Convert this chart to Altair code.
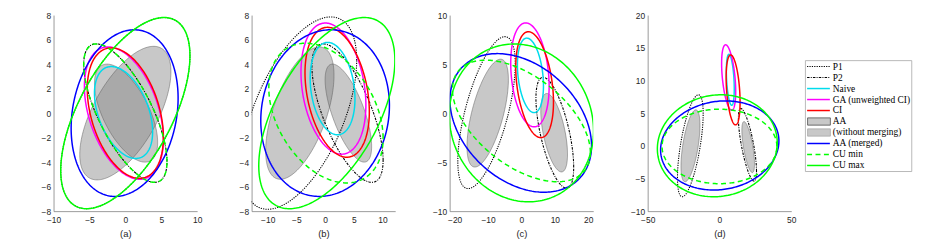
import numpy as np
import pandas as pd
import altair as alt

# ---------------- data ----------------
SERIES = ["P1", "P2", "Naive", "GA (unweighted CI)", "CI", "AA",
          "(without merging)", "AA (merged)", "CU min", "CU max"]
PANEL_TITLES = ["(a)", "(b)", "(c)", "(d)"]

# ellipse centre (cx, cy), half extents (sx, sy) and correlation (rho), per series
A_CX = [0.0, 0.0, -0.25, -0.2, 0.0, 0.0, 0.1, -0.1, 0.0, 0.0]
A_CY = [0.0, 0.0, 0.05, 0.0, 0.0, 0.0, 0.0, 0.0, 0.0, 0.0]
A_SX = [9.0, 5.8, 4.05, 5.5, 5.3, 6.35, 4.4, 7.45, 5.8, 9.0]
A_SY = [7.8, 5.65, 3.75, 5.4, 5.32, 5.45, 4.0, 6.8, 5.65, 7.8]
A_RHO = [0.60, -0.70, -0.42, -0.40, -0.37, 0.62, -0.60, 0.18, -0.70, 0.60]

B_CX = [-4.5, 3.9, 1.3, 1.45, 2.1, -4.4, 4.05, 0.0, 0.15, 0.3]
B_CY = [0.0, 0.0, 2.0, 2.0, 1.7, 0.0, 0.0, 0.0, 0.0, 0.0]
B_SX = [10.0, 6.2, 3.9, 5.65, 5.6, 5.95, 4.05, 11.2, 9.95, 11.85]
B_SY = [7.85, 5.65, 3.77, 5.35, 5.3, 5.4, 4.0, 6.8, 5.7, 7.8]
B_RHO = [0.55, -0.68, -0.22, -0.25, -0.30, 0.57, -0.68, 0.09, -0.36, 0.55]

C_CX = [-10.45, 10.0, 2.7, 2.55, 3.95, -10.1, 9.8, -0.2, 0.0, 0.0]
C_CY = [0.05, -2.0, 3.85, 3.9, 2.9, 0.0, -2.0, -1.0, -0.8, -1.0]
C_SX = [8.6, 5.65, 3.9, 5.75, 5.65, 6.2, 4.0, 21.2, 20.65, 21.6]
C_SY = [7.75, 5.65, 3.8, 5.3, 5.4, 5.5, 4.0, 7.07, 6.2, 8.05]
C_RHO = [0.64, -0.62, -0.28, -0.22, -0.33, 0.62, -0.55, -0.33, -0.52, -0.10]

D_CX = [-20.3, 19.5, 7.55, 6.4, 9.5, -20.2, 20.0, 0.2, 0.0, -1.5]
D_CY = [0.0, 0.15, 10.1, 10.45, 8.55, 0.0, -0.2, 0.05, -0.1, 0.0]
D_SX = [8.95, 6.3, 2.75, 4.9, 4.85, 6.6, 4.4, 41.2, 40.0, 41.75]
D_SY = [7.8, 5.55, 3.9, 5.0, 5.35, 5.5, 3.9, 6.82, 5.7, 7.8]
D_RHO = [0.63, -0.73, -0.35, -0.43, -0.35, 0.57, -0.66, 0.10, 0.0, 0.06]

X_DOMAINS = [[-10, 10], [-12.8, 12.2], [-21.5, 21.5], [-50, 50]]
Y_DOMAINS = [[-8, 8], [-8, 8], [-10, 10], [-10, 20]]
X_TICKS = [[-10, -5, 0, 5, 10], [-10, -5, 0, 5, 10], [-20, -10, 0, 10, 20], [-50, 0, 50]]
Y_TICKS = [[-8, -6, -4, -2, 0, 2, 4, 6, 8], [-8, -6, -4, -2, 0, 2, 4, 6, 8],
           [-10, -5, 0, 5, 10], [-10, -5, 0, 5, 10, 15, 20]]

PANELS = [
    dict(cx=A_CX, cy=A_CY, sx=A_SX, sy=A_SY, rho=A_RHO),
    dict(cx=B_CX, cy=B_CY, sx=B_SX, sy=B_SY, rho=B_RHO),
    dict(cx=C_CX, cy=C_CY, sx=C_SX, sy=C_SY, rho=C_RHO),
    dict(cx=D_CX, cy=D_CY, sx=D_SX, sy=D_SY, rho=D_RHO),
]

# ---------------- styles ----------------
GREEN = "#00ff00"
STYLE = {
    "P1": dict(color="#000000", width=1.1, dash=[1.2, 1.2]),
    "P2": dict(color="#000000", width=1.1, dash=[2.5, 1.2, 1, 1.2]),
    "Naive": dict(color="#00dcec", width=1.5),
    "GA (unweighted CI)": dict(color="#ff00ff", width=1.5),
    "CI": dict(color="#ff0000", width=1.5),
    "AA (merged)": dict(color="#0000ff", width=1.5),
    "CU min": dict(color=GREEN, width=1.5, dash=[5, 3.5]),
    "CU max": dict(color=GREEN, width=1.5),
}
FILLED = ["AA", "(without merging)"]
LINE_ORDER = ["P1", "P2", "Naive", "GA (unweighted CI)", "CI", "AA (merged)", "CU min", "CU max"]
GRAY_FILL = "#808080"
GRAY_OPACITY = 0.43
FONT = "Liberation Sans"
TXT = "#262626"
AXIS_COL = "#808080"
W, H = 145, 198

T = np.linspace(0, 2 * np.pi, 241)
TH = np.linspace(0, np.pi, 121)


def outline(cx, cy, sx, sy, r):
    s = np.sqrt(1 - r * r)
    return pd.DataFrame({"k": np.arange(len(T)),
                         "x": cx + sx * np.cos(T),
                         "y": cy + sy * (r * np.cos(T) + s * np.sin(T))})


def band(cx, cy, sx, sy, r):
    s = np.sqrt(1 - r * r)
    c, sn = np.cos(TH), np.sin(TH)
    return pd.DataFrame({"x": cx + sx * c,
                         "y": cy + sy * (r * c + s * sn),
                         "y2": cy + sy * (r * c - s * sn)})


def panel_layers(i):
    p = PANELS[i]
    xs = alt.Scale(domain=X_DOMAINS[i], nice=False, zero=False)
    ys = alt.Scale(domain=Y_DOMAINS[i], nice=False, zero=False)
    xaxis = alt.Axis(values=X_TICKS[i], title=PANEL_TITLES[i], grid=False, ticks=False,
                     labelFlush=False, labelFont=FONT, labelFontSize=8.5, labelColor=TXT,
                     labelPadding=4.5, domainColor=AXIS_COL, domainWidth=0.8,
                     titleFont=FONT, titleFontSize=9.5, titleFontWeight="normal",
                     titleColor=TXT, titlePadding=5)
    yaxis = alt.Axis(values=Y_TICKS[i], title=None, grid=False, ticks=False,
                     labelFlush=False, labelFont=FONT, labelFontSize=8.5, labelColor=TXT,
                     labelPadding=3, domainColor=AXIS_COL, domainWidth=0.8)
    layers = []
    for name in FILLED:
        j = SERIES.index(name)
        d = band(p["cx"][j], p["cy"][j], p["sx"][j], p["sy"][j], p["rho"][j])
        layers.append(alt.Chart(d).mark_area(color=GRAY_FILL, fillOpacity=GRAY_OPACITY, clip=True).encode(
            x=alt.X("x:Q", scale=xs, axis=xaxis),
            y=alt.Y("y:Q", scale=ys, axis=yaxis, stack=False),
            y2="y2:Q"))
    for name in FILLED:
        j = SERIES.index(name)
        d = outline(p["cx"][j], p["cy"][j], p["sx"][j], p["sy"][j], p["rho"][j])
        layers.append(alt.Chart(d).mark_line(color="#5a5a5a", strokeWidth=0.5, clip=True).encode(
            x=alt.X("x:Q", scale=xs, axis=xaxis),
            y=alt.Y("y:Q", scale=ys, axis=yaxis),
            order="k:Q"))
    for name in LINE_ORDER:
        j = SERIES.index(name)
        st = STYLE[name]
        kw = dict(color=st["color"], strokeWidth=st["width"], clip=True)
        if "dash" in st:
            kw["strokeDash"] = st["dash"]
        d = outline(p["cx"][j], p["cy"][j], p["sx"][j], p["sy"][j], p["rho"][j])
        layers.append(alt.Chart(d).mark_line(**kw).encode(
            x=alt.X("x:Q", scale=xs, axis=xaxis),
            y=alt.Y("y:Q", scale=ys, axis=yaxis),
            order="k:Q"))
    return layers


# ---------------- legend (drawn beside panel d) ----------------
leg = pd.DataFrame({"label": SERIES, "row": np.arange(len(SERIES))})
LX = alt.Scale(domain=[-159, -14], nice=False, zero=False)   # 1 unit = 1 px, starts right of panel d
LY = alt.Scale(domain=[-4.685, 13.155], nice=False, zero=False, reverse=True)


def legend_layers():
    out = []
    box = pd.DataFrame({"u": [0.3], "u2": [107.7], "r": [-0.54], "r2": [9.55]})
    out.append(alt.Chart(box).mark_rect(fill="white", stroke="#a6a6a6", strokeWidth=0.8).encode(
        x=alt.X("u:Q", scale=LX, axis=None), x2="u2:Q",
        y=alt.Y("r:Q", scale=LY, axis=None), y2="r2:Q"))
    for name in SERIES:
        row = leg[leg["label"] == name]
        if name in FILLED:
            rr = row.assign(u=2.5, u2=25.5, r=row["row"] - 0.33, r2=row["row"] + 0.33)
            edge = "#4d4d4d" if name == "AA" else "#a8a8a8"
            out.append(alt.Chart(rr).mark_rect(fill=GRAY_FILL, fillOpacity=GRAY_OPACITY,
                                               stroke=edge, strokeWidth=0.8).encode(
                x=alt.X("u:Q", scale=LX, axis=None), x2="u2:Q",
                y=alt.Y("r:Q", scale=LY, axis=None), y2="r2:Q"))
        else:
            st = STYLE[name]
            kw = dict(color=st["color"], strokeWidth=st["width"])
            if "dash" in st:
                kw["strokeDash"] = st["dash"]
            rr = row.assign(u=2.0, u2=25.0)
            out.append(alt.Chart(rr).mark_rule(**kw).encode(
                x=alt.X("u:Q", scale=LX, axis=None), x2="u2:Q",
                y=alt.Y("row:Q", scale=LY, axis=None)))
    lt = leg.assign(u=28.0)
    out.append(alt.Chart(lt).mark_text(align="left", baseline="middle", font="Liberation Serif",
                                       fontSize=9.5, color="#000000").encode(
        x=alt.X("u:Q", scale=LX, axis=None),
        y=alt.Y("row:Q", scale=LY, axis=None),
        text="label:N"))
    return out


charts = []
for i in range(4):
    lay = alt.layer(*panel_layers(i))
    if i == 3:
        lay = alt.layer(lay, alt.layer(*legend_layers())).resolve_scale(x="independent", y="independent")
    charts.append(lay.properties(width=W, height=H))

chart = alt.hconcat(*charts, spacing=55, bounds="flush").properties(
    padding={"left": 33, "top": 2, "right": 5, "bottom": 0}
).configure_view(stroke=None)

chart.save("out.html", embed_options={"renderer": "svg", "actions": False})
